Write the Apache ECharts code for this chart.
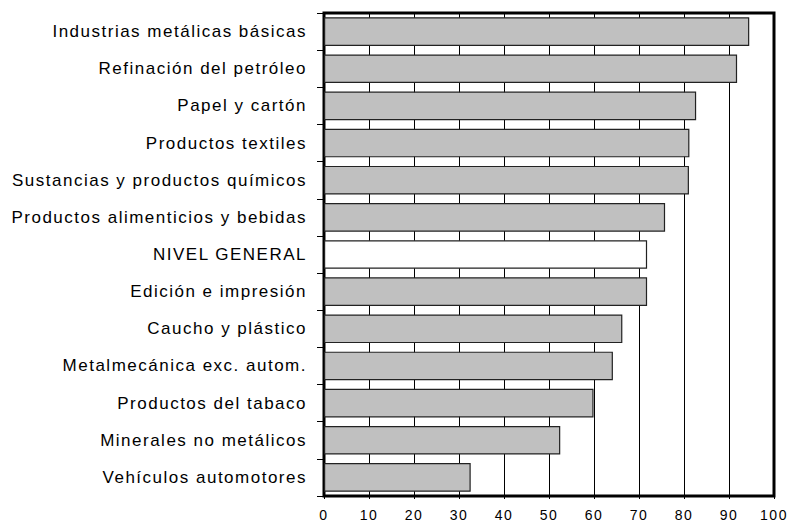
<!DOCTYPE html>
<html>
<head>
<meta charset="utf-8">
<script src="https://cdn.jsdelivr.net/npm/echarts@6/dist/echarts.min.js"></script>
<style>
  html, body { margin: 0; padding: 0; background: #fff; }
  #chart { width: 789px; height: 525px; }
  #chart text { letter-spacing: 1.5px; }
</style>
</head>
<body>
<div id="chart"></div>
<script>
// categories, top to bottom
var categories = [
  'Industrias metálicas básicas',
  'Refinación del petróleo',
  'Papel y cartón',
  'Productos textiles',
  'Sustancias y productos químicos',
  'Productos alimenticios y bebidas',
  'NIVEL GENERAL',
  'Edición e impresión',
  'Caucho y plástico',
  'Metalmecánica exc. autom.',
  'Productos del tabaco',
  'Minerales no metálicos',
  'Vehículos automotores'
]
var values = [94.5, 91.8, 82.7, 81.2, 81.1, 75.8, 71.8, 71.8, 66.3, 64.2, 59.9, 52.5, 32.6]
var xTicks = [0, 10, 20, 30, 40, 50, 60, 70, 80, 90, 100]
var highlight = 'NIVEL GENERAL'

var chart = echarts.init(document.getElementById('chart'), null, { renderer: 'svg' })

var barData = values.map(function(v, i) {
  return {
    value: v,
    itemStyle: {
      color: categories[i] === highlight ? '#ffffff' : '#c0c0c0'
    }
  }
})

chart.setOption({
  animation: false,
  textStyle: {
    fontFamily: 'Liberation Sans, Arial, sans-serif'
  },
  grid: {
    left: 324,
    right: 15,
    top: 13,
    bottom: 29,
    show: true,
    borderColor: '#000',
    borderWidth: 3,
    backgroundColor: 'transparent'
  },
  xAxis: {
    type: 'value',
    min: xTicks[0],
    max: xTicks[xTicks.length - 1],
    interval: 10,
    axisLine: { show: true, lineStyle: { color: '#000', width: 2 } },
    axisTick: { show: true, length: 3, lineStyle: { color: '#000' } },
    splitLine: { show: true, lineStyle: { color: '#000', width: 1 } },
    axisLabel: {
      color: '#000',
      fontSize: 14,
      margin: 12
    }
  },
  yAxis: {
    type: 'category',
    inverse: true,
    data: categories,
    axisLine: { show: true, lineStyle: { color: '#000', width: 1.5 } },
    axisTick: { show: true, length: 7, lineStyle: { color: '#000' } },
    axisLabel: {
      color: '#000',
      fontSize: 17,
      margin: 17,
      interval: 0
    }
  },
  series: [{
    type: 'bar',
    data: barData,
    barCategoryGap: '23%',
    itemStyle: {
      borderColor: '#222',
      borderWidth: 1.2
    }
  }]
})
</script>
</body>
</html>
